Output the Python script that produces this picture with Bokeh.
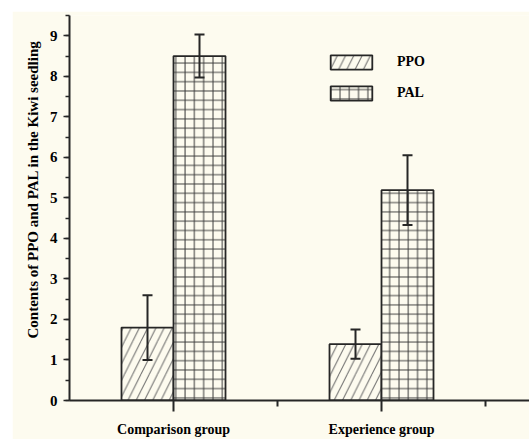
from bokeh.plotting import figure
from bokeh.models import (ColumnDataSource, Whisker, TeeHead, FixedTicker,
                          SingleIntervalTicker, Legend, LegendItem, Range1d, Title)
from bokeh.embed import file_html
from bokeh.resources import INLINE

groups = ["Comparison group", "Experience group"]
ppo = [1.80, 1.39]
ppo_err = [0.80, 0.36]
pal = [8.50, 5.19]
pal_err = [0.53, 0.86]
series = ["PPO", "PAL"]
y_title = "Contents of PPO and PAL in the Kiwi seedling"

BG = "#fdfbef"
INK = "#262626"
FONT = "Liberation Serif"

centers = [2 * i + 1 for i in range(len(groups))]
x_ppo = [c - 0.25 for c in centers]
x_pal = [c + 0.25 for c in centers]

src_ppo = ColumnDataSource(dict(x=x_ppo, top=ppo,
                                up=[v + e for v, e in zip(ppo, ppo_err)],
                                lo=[v - e for v, e in zip(ppo, ppo_err)]))
src_pal = ColumnDataSource(dict(x=x_pal, top=pal,
                                up=[v + e for v, e in zip(pal, pal_err)],
                                lo=[v - e for v, e in zip(pal, pal_err)]))

p = figure(width=517, height=428, output_backend="svg", toolbar_location=None,
           x_range=Range1d(0, 4.423), y_range=Range1d(0, 9.5),
           background_fill_color=BG, border_fill_color=BG,
           min_border_left=57, min_border_right=0, min_border_top=4,
           min_border_bottom=37)
p.margin = (11, 0, 0, 12)
p.outline_line_color = None
p.xgrid.visible = False
p.ygrid.visible = False

r1 = p.vbar(x="x", top="top", width=0.5, bottom=0, source=src_ppo,
            fill_color=BG, line_color=INK, line_width=1.8,
            hatch_pattern="/", hatch_scale=16.5, hatch_color="#6a6a6a",
            hatch_weight=1.0)
r2 = p.vbar(x="x", top="top", width=0.5, bottom=0, source=src_pal,
            fill_color=BG, line_color=INK, line_width=1.8,
            hatch_pattern="+", hatch_scale=9.3, hatch_color="#3a3a3a",
            hatch_weight=1.0)

for src in (src_ppo, src_pal):
    w = Whisker(source=src, base="x", upper="up", lower="lo", level="overlay",
                line_color=INK, line_width=2,
                upper_head=TeeHead(size=10, line_color=INK, line_width=2),
                lower_head=TeeHead(size=10, line_color=INK, line_width=2))
    p.add_layout(w)

# axes
xa = p.xaxis[0]
xa.ticker = FixedTicker(ticks=centers, minor_ticks=[c + 1 for c in centers])
xa.major_label_overrides = {c: g for c, g in zip(centers, groups)}
xa.major_tick_out = 11
xa.major_tick_in = 0
xa.minor_tick_out = 6
xa.minor_tick_in = 0
xa.axis_line_width = 2
xa.axis_line_color = INK
xa.major_tick_line_width = 2
xa.major_tick_line_color = INK
xa.minor_tick_line_width = 2
xa.minor_tick_line_color = INK
xa.major_label_text_font = FONT
xa.major_label_text_font_style = "bold"
xa.major_label_text_font_size = "14px"
xa.major_label_text_color = "black"
xa.major_label_standoff = 10

ya = p.yaxis[0]
ya.ticker = SingleIntervalTicker(interval=1, num_minor_ticks=2)
ya.major_tick_out = 6
ya.major_tick_in = 0
ya.minor_tick_out = 4
ya.minor_tick_in = 0
ya.axis_line_width = 2
ya.axis_line_color = INK
ya.major_tick_line_width = 1.5
ya.major_tick_line_color = INK
ya.minor_tick_line_width = 1.5
ya.minor_tick_line_color = INK
ya.major_label_text_font = FONT
ya.major_label_text_font_style = "bold"
ya.major_label_text_font_size = "15px"
ya.major_label_text_color = "black"
ya.major_label_standoff = 6

ytitle = Title(text=y_title, align="left", offset=62, standoff=11,
               text_font=FONT, text_font_style="bold", text_font_size="15px",
               text_color="black")
p.add_layout(ytitle, "left")

legend = Legend(items=[LegendItem(label=series[0], renderers=[r1]),
                       LegendItem(label=series[1], renderers=[r2])],
                location=(256, 298), orientation="vertical",
                glyph_width=52, glyph_height=18, label_height=18,
                label_standoff=20, spacing=13, padding=0, margin=0,
                border_line_color=None, background_fill_alpha=0,
                label_text_font=FONT, label_text_font_style="bold",
                label_text_font_size="14px", label_text_color="black")
p.add_layout(legend)

open("out.html", "w").write(file_html(p, INLINE))
